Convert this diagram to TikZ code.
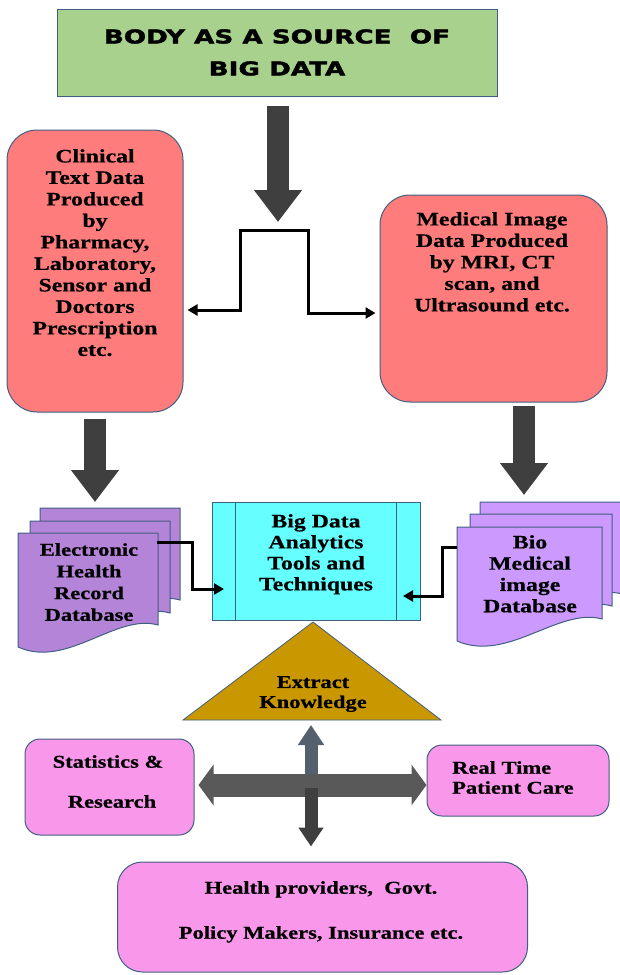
\documentclass[tikz,border=0pt]{standalone}
\usepackage{fontspec}
\usetikzlibrary{arrows.meta}
\newfontfamily\ser[FakeStretch=1.25,FakeBold=0.6]{Liberation Serif}
\newfontfamily\ttl[FakeStretch=1.38,FakeBold=2]{DejaVu Sans}
\definecolor{gbox}{RGB}{169,209,142}
\definecolor{rbox}{RGB}{255,124,124}
\definecolor{pl}{RGB}{180,132,216}
\definecolor{pr}{RGB}{204,153,255}
\definecolor{cy}{RGB}{102,255,255}
\definecolor{goldc}{RGB}{201,151,0}
\definecolor{pk}{RGB}{249,152,235}
\definecolor{dk}{RGB}{63,63,63}
\definecolor{crh}{RGB}{89,89,89}
\definecolor{cru}{RGB}{84,96,110}
\definecolor{bord}{RGB}{65,95,130}
\newcommand\dpage[4]{\filldraw[fill=#4,draw=bord,line width=1pt] (#1,#3) -- (#2,#3) -- (#2,{#3+92}) .. controls ({#2-0.3*(#2-#1)},{#3+80}) and ({#1+0.35*(#2-#1)},{#3+136}) .. (#1,{#3+114}) -- cycle;}
\begin{document}
\begin{tikzpicture}[x=1pt,y=-1pt,
  box/.style={draw=bord,line width=1pt,inner sep=0pt},
  lbl/.style={inner sep=0pt,align=center,font=\ser\bfseries\fontsize{19}{21.5}\selectfont},
  conn/.style={line width=3pt,line join=miter},
  >={Triangle[length=10pt 0 0,width=11pt 0 0]},
  bigarr/.style={dk,line width=22pt,-{Triangle[length=32pt 0 0,width=46pt 0 0]}},
  crossH/.style={crh,line width=23pt,{Triangle[length=15pt 0 0,width=40pt 0 0]}-{Triangle[length=15pt 0 0,width=40pt 0 0]}},
  crossU/.style={cru,line width=13pt,-{Triangle[length=20pt 0 0,width=25pt 0 0]}},
  crossD/.style={dk,line width=13pt,-{Triangle[length=19pt 0 0,width=24pt 0 0]}}
]
\useasboundingbox (0,0) rectangle (620,975);

% title
\node[box,fill=gbox,minimum width=440pt,minimum height=87pt,align=center,
      font=\ttl\bfseries\fontsize{19}{32}\selectfont] (title) at (277,52.5)
      {BODY AS A SOURCE\ \ OF\\BIG DATA};

% red boxes
\node[box,fill=rbox,rounded corners=30pt,minimum width=176pt,minimum height=282pt] (clin) at (95,271) {};
\node[lbl,anchor=north] (clintxt) at (95,149) {Clinical\\Text Data\\Produced\\by\\Pharmacy,\\Laboratory,\\Sensor and\\Doctors\\Prescription\\etc.};
\node[box,fill=rbox,rounded corners=30pt,minimum width=227pt,minimum height=207pt] (med) at (493.5,298.5) {};
\node[lbl,anchor=north] (medtxt) at (492,212) {Medical Image\\Data Produced\\by MRI, CT\\scan, and\\Ultrasound etc.};

% arrow from title and bracket
\coordinate (bt) at (278,230);
\draw[bigarr,shorten <=9pt,shorten >=8pt] (title.south -| bt) -- (bt);
\coordinate (brL) at (240,230);
\coordinate (brR) at (308,230);
\coordinate (kL) at (240,310);
\coordinate (kR) at (308,313);
\draw[conn,<->,shorten <=4pt,shorten >=4pt] (kL -| clin.east) -- (kL) -- (brL) -- (brR) -- (kR) -- (kR -| med.west);

% documents
\dpage{40}{180}{508}{pl}
\dpage{30}{170}{521}{pl}
\dpage{18}{158}{533}{pl}
\node[lbl,anchor=north,font=\ser\bfseries\fontsize{18}{21.7}\selectfont] (ehr) at (89,543) {Electronic\\Health\\Record\\Database};
\dpage{480}{622}{502}{pr}
\dpage{470}{612}{514}{pr}
\dpage{457}{602}{527}{pr}
\node[lbl,anchor=north,font=\ser\bfseries\fontsize{19}{21.3}\selectfont] (bio) at (530,535) {Bio\\Medical\\image\\Database};

% arrows down to documents
\coordinate (ehrtop) at (95,508);
\coordinate (biotop) at (524,502);
\draw[bigarr,shorten <=6pt,shorten >=6pt] (clin.south) -- (ehrtop);
\draw[bigarr,shorten <=3pt,shorten >=7pt] (med.south -| biotop) -- (biotop);

% analytics box
\node[box,fill=cy,minimum width=208pt,minimum height=118pt] (bda) at (316,561) {};
\draw[bord,line width=1pt] ([xshift=24pt]bda.north west) -- ([xshift=24pt]bda.south west);
\draw[bord,line width=1pt] ([xshift=-24pt]bda.north east) -- ([xshift=-24pt]bda.south east);
\node[lbl,anchor=north,font=\ser\bfseries\fontsize{19}{21}\selectfont] (bdatxt) at (316,514) {Big Data\\Analytics\\Tools and\\Techniques};

% connectors documents -> analytics
\coordinate (ehrout) at (157,542);
\coordinate (j1) at (192,589);
\coordinate (bdaL) at (224,589);
\draw[conn,->] (ehrout) -| (j1) -- (bdaL);
\coordinate (bioout) at (457,547);
\coordinate (j2) at (442,596);
\coordinate (bdaR) at (403,596);
\draw[conn,->] (bioout) -| (j2) -- (bdaR);

% triangle
\coordinate (tA) at (313,622);
\coordinate (tB) at (183,720);
\coordinate (tC) at (441,720);
\filldraw[fill=goldc,draw=bord,line width=0.8pt] (tA) -- (tB) -- (tC) -- cycle;
\node[lbl,anchor=north,font=\ser\bfseries\fontsize{18}{20}\selectfont] (ek) at (313,676) {Extract\\Knowledge};

% lower boxes
\node[box,fill=pk,rounded corners=15pt,minimum width=169pt,minimum height=96pt] (stats) at (109.5,787) {};
\node[lbl,anchor=north,font=\ser\bfseries\fontsize{18}{40}\selectfont] (statstxt) at (108,755) {Statistics \&\\\hspace*{8pt}Research};
\node[box,fill=pk,rounded corners=15pt,minimum width=182pt,minimum height=71pt] (rt) at (518,780.5) {};
\node[lbl,anchor=north west,align=left,font=\ser\bfseries\fontsize{18}{20}\selectfont] (rttxt) at (452,761) {Real Time\\Patient Care};
\node[box,fill=pk,rounded corners=25pt,minimum width=410pt,minimum height=110pt] (bot) at (322.5,917) {};
\node[lbl,anchor=north,font=\ser\bfseries\fontsize{18}{45}\selectfont] (bottxt) at (321,881) {Health providers,\ \ Govt.\\Policy Makers, Insurance etc.};

% cross arrows
\coordinate (cx) at (311,785);
\coordinate (tbase) at (311,720);
\draw[crossU,shorten >=5pt] (cx) -- (tbase);
\draw[crossH,shorten <=4pt] (stats.east |- cx) -- (rt.west |- cx);
\draw[crossD,shorten <=3pt,shorten >=15pt] (cx) -- (bot.north -| cx);
\end{tikzpicture}
\end{document}
